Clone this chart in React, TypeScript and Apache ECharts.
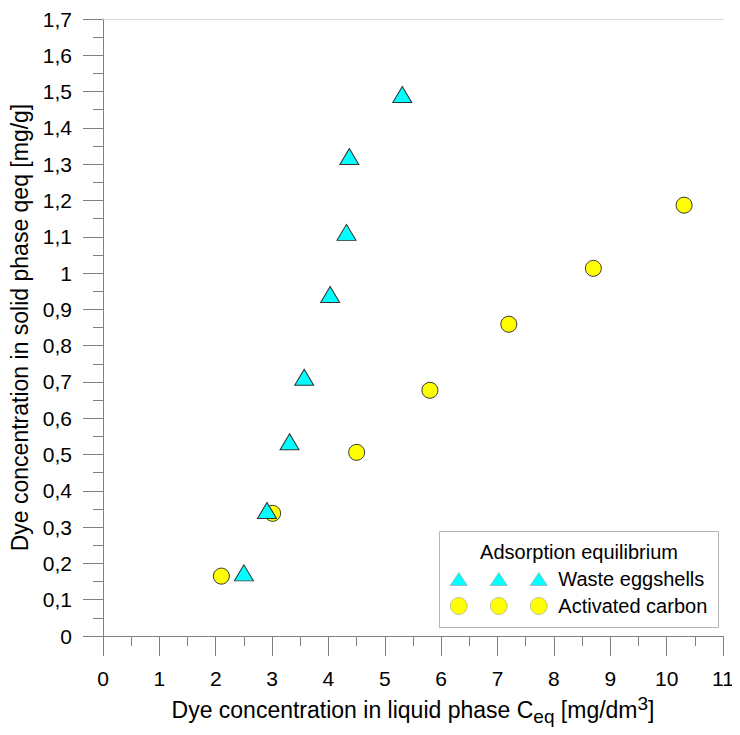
import React, { useEffect, useRef } from "react";
import * as echarts from "echarts";

// Equilibrium data: C_eq [mg/dm3] vs q_eq [mg/g]
const eggshellC = [2.5, 2.91, 3.31, 3.57, 4.03, 4.32, 4.37, 5.31];
const eggshellQ = [0.174, 0.346, 0.535, 0.713, 0.941, 1.112, 1.321, 1.492];

const carbonC = [2.1, 3.01, 4.5, 5.8, 7.2, 8.7, 10.31];
const carbonQ = [0.165, 0.338, 0.506, 0.677, 0.859, 1.013, 1.187];

const seriesNames = ["Waste eggshells", "Activated carbon"];
const legendTitle = "Adsorption equilibrium";

const FONT = "'Liberation Sans', Arial, sans-serif";
const AXIS_GREY = "#808080";

// Legend icons: three markers side by side
const tri = (cx: number) => `M${cx - 8.5} 15 L${cx} 2 L${cx + 8.5} 15 Z`;
const circ = (cx: number) =>
  `M${cx - 8.5} 8.5 A8.5 8.5 0 1 0 ${cx + 8.5} 8.5 A8.5 8.5 0 1 0 ${cx - 8.5} 8.5 Z`;
const triIcon = "path://" + [8.5, 48.5, 88.5].map(tri).join(" ");
const circIcon = "path://" + [8.5, 48.5, 88.5].map(circ).join(" ");

const zip = (xs: number[], ys: number[]) => xs.map((x, i) => [x, ys[i]]);

export default function App() {
  const ref = useRef<HTMLDivElement>(null);

  useEffect(() => {
    if (!ref.current) return;
    const chart = echarts.init(ref.current, null, { renderer: "svg" });
    chart.setOption({
      animation: false,
      backgroundColor: "#fff",
      textStyle: { fontFamily: FONT },
      grid: { left: 103, right: 17, top: 19, bottom: 99, containLabel: false },
      xAxis: [
        {
          type: "value",
          min: 0,
          max: 11,
          interval: 1,
          axisLine: { show: true, lineStyle: { color: AXIS_GREY, width: 1 } },
          axisTick: { show: true, inside: false, length: 20, lineStyle: { color: AXIS_GREY } },
          minorTick: { show: true, splitNumber: 2, length: 10, lineStyle: { color: AXIS_GREY } },
          splitLine: { show: false },
          axisLabel: { color: "#000", fontSize: 21, margin: 32, fontFamily: FONT },
          name: "Dye concentration in liquid phase C{sub|eq} [mg/dm{sup|3}]",
          nameLocation: "middle",
          nameGap: 59,
          nameTextStyle: {
            color: "#000",
            fontSize: 23,
            fontFamily: FONT,
            lineHeight: 32,
            verticalAlign: "middle",
            rich: {
              sub: { fontSize: 19, fontFamily: FONT, color: "#000", verticalAlign: "bottom", lineHeight: 24 },
              sup: { fontSize: 19, fontFamily: FONT, color: "#000", verticalAlign: "top", lineHeight: 20 },
            },
          },
        },
        {
          type: "value",
          position: "top",
          min: 0,
          max: 11,
          axisLine: { show: true, lineStyle: { color: "#d8d8d8", width: 1 } },
          axisTick: { show: false },
          axisLabel: { show: false },
          splitLine: { show: false },
        },
      ],
      yAxis: {
        type: "value",
        min: 0,
        max: 1.7,
        interval: 0.1,
        axisLine: { show: true, lineStyle: { color: AXIS_GREY, width: 1 } },
        axisTick: { show: true, inside: false, length: 20, lineStyle: { color: AXIS_GREY } },
        minorTick: { show: true, splitNumber: 2, length: 10, lineStyle: { color: AXIS_GREY } },
        splitLine: { show: false },
        axisLabel: {
          color: "#000",
          fontSize: 21,
          margin: 31,
          fontFamily: FONT,
          formatter: (v: number) => String(+v.toFixed(1)).replace(".", ","),
        },
        name: "Dye concentration in solid phase qeq [mg/g]",
        nameLocation: "middle",
        nameGap: 71,
        nameTextStyle: { color: "#000", fontSize: 23, fontFamily: FONT },
      },
      legend: {
        orient: "vertical",
        left: 450,
        top: 569,
        padding: 0,
        itemGap: 7,
        itemWidth: 97,
        itemHeight: 17,
        symbolKeepAspect: true,
        textStyle: { color: "#000", fontSize: 20, lineHeight: 20, fontFamily: FONT, padding: [0, 0, 0, 6] },
        data: [
          { name: seriesNames[0], icon: triIcon, itemStyle: { borderColor: "#9a9a9a", borderWidth: 0.6 } },
          { name: seriesNames[1], icon: circIcon, itemStyle: { borderColor: "#9a9a9a", borderWidth: 0.6 } },
        ],
      },
      graphic: [
        {
          type: "rect",
          z: 0,
          shape: { x: 439.5, y: 531.5, width: 279, height: 96 },
          style: { fill: "#fff", stroke: "#b4b4b4", lineWidth: 1 },
        },
        {
          type: "text",
          z: 1,
          x: 579,
          y: 552,
          style: {
            text: legendTitle,
            fontSize: 20,
            fontFamily: FONT,
            fill: "#000",
            align: "center",
            verticalAlign: "middle",
          },
        },
      ],
      series: [
        {
          name: seriesNames[1],
          type: "scatter",
          symbol: "circle",
          symbolSize: 16,
          itemStyle: { color: "#ffff00", borderColor: "#333", borderWidth: 1, opacity: 1 },
          data: zip(carbonC, carbonQ),
          z: 2,
        },
        {
          name: seriesNames[0],
          type: "scatter",
          symbol: "triangle",
          symbolSize: [19, 16],
          itemStyle: { color: "#00ffff", borderColor: "#333", borderWidth: 1, opacity: 1 },
          data: zip(eggshellC, eggshellQ),
          z: 3,
        },
      ],
    });
    return () => chart.dispose();
  }, []);

  return <div ref={ref} style={{ width: 740, height: 735, margin: -8 }} />;
}
